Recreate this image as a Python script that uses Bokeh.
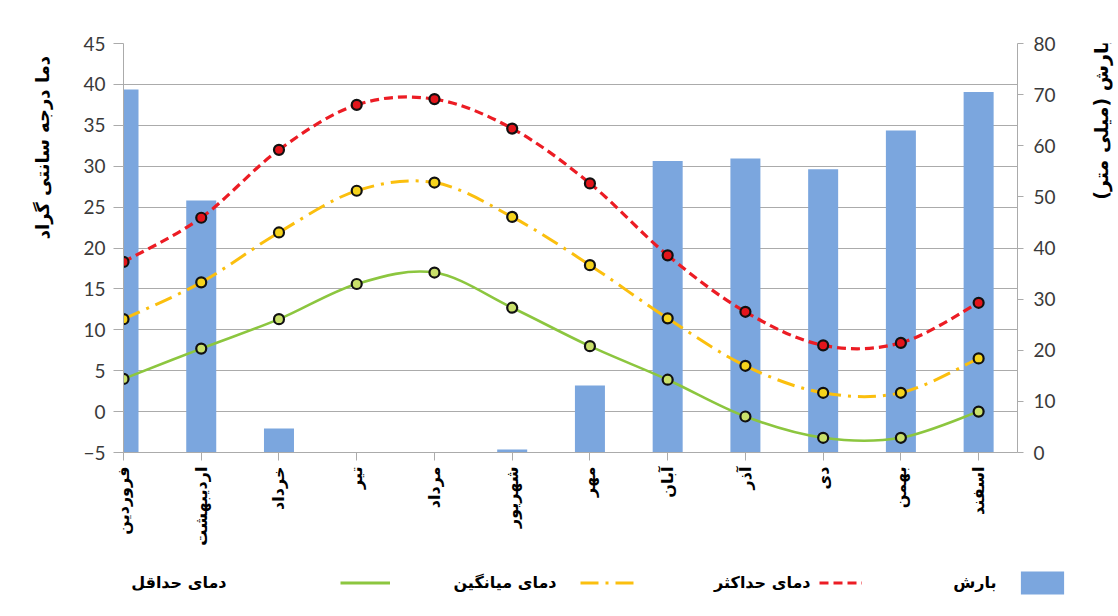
import math
import numpy as np
from bokeh.plotting import figure
from bokeh.layouts import column, row
from bokeh.models import (Range1d, LinearAxis, FixedTicker, Legend, LegendItem, Label)
from bokeh.embed import file_html
from bokeh.resources import INLINE

# ---------------- data ----------------
months = ["فروردین", "اردیبهشت", "خرداد", "تیر", "مرداد", "شهریور",
          "مهر", "آبان", "آذر", "دی", "بهمن", "اسفند"]
precip = [71.0, 49.3, 4.7, 0.0, 0.0, 0.6, 13.1, 57.0, 57.5, 55.4, 63.0, 70.5]
t_max = [18.3, 23.7, 32.0, 37.5, 38.2, 34.6, 27.9, 19.1, 12.2, 8.1, 8.4, 13.3]
t_mean = [11.3, 15.8, 21.9, 27.0, 28.0, 23.8, 17.9, 11.4, 5.6, 2.3, 2.3, 6.5]
t_min = [4.0, 7.7, 11.3, 15.6, 17.0, 12.7, 8.0, 3.9, -0.6, -3.2, -3.2, 0.0]
temp_ticks = list(range(-5, 46, 5))
rain_ticks = list(range(0, 81, 10))

legend_min = "دمای حداقل"
legend_mean = "دمای میانگین"
legend_max = "دمای حداکثر"
legend_rain = "بارش"
left_title = "دما درجه سانتی گراد"
right_title = "بارش (میلی متر)\u200f"

x = np.arange(len(months), dtype=float)

FA_FONT = "DejaVu Sans"
NUM_FONT = "Lato"
GRID = "#ababab"
C_MIN, C_MEAN, C_MAX, C_RAIN = "#8cc63f", "#fbbf0e", "#ec1c24", "#7ba6de"
DASH_MEAN, DASH_MAX = "18 7 3 7", "9 5"

TOP, FRAME_H, BOTTOM = 43, 409, 105
MAIN_H = TOP + FRAME_H + BOTTOM

p = figure(frame_width=894, frame_height=FRAME_H, output_backend="svg",
           toolbar_location=None,
           x_range=Range1d(0, 11.5), y_range=Range1d(-5, 45),
           min_border_left=63, min_border_right=58, min_border_top=TOP,
           min_border_bottom=BOTTOM)
p.outline_line_color = None
p.background_fill_color = "white"
p.border_fill_color = "white"

p.extra_y_ranges = {"rain": Range1d(0, 80)}

# bars
bars = p.vbar(x=x, top=precip, bottom=0, width=0.386, y_range_name="rain",
              fill_color=C_RAIN, line_color=None)


def smooth_parts(xs, ys):
    xs = np.asarray(xs, float)
    ys = np.asarray(ys, float)
    n = len(xs)
    qx = np.concatenate([[xs[0]], xs, [xs[-1]]])
    qy = np.concatenate([[ys[0]], ys, [ys[-1]]])
    cx0 = qx[1:n] + (qx[2:n + 1] - qx[0:n - 1]) / 6.0
    cy0 = qy[1:n] + (qy[2:n + 1] - qy[0:n - 1]) / 6.0
    cx1 = qx[2:n + 1] - (qx[3:n + 2] - qx[1:n]) / 6.0
    cy1 = qy[2:n + 1] - (qy[3:n + 2] - qy[1:n]) / 6.0
    return dict(x0=xs[:-1], y0=ys[:-1], x1=xs[1:], y1=ys[1:],
                cx0=cx0, cy0=cy0, cx1=cx1, cy1=cy1)


p.bezier(**smooth_parts(x, t_min), line_color=C_MIN, line_width=2.6)
p.bezier(**smooth_parts(x, t_mean), line_color=C_MEAN, line_width=3, line_dash=DASH_MEAN)
p.bezier(**smooth_parts(x, t_max), line_color=C_MAX, line_width=3.2, line_dash=DASH_MAX)

p.scatter(x, t_min, size=10, fill_color="#c9e06a", line_color="#111111", line_width=2.2)
p.scatter(x, t_mean, size=10, fill_color="#f5d31c", line_color="#111111", line_width=2.2)
p.scatter(x, t_max, size=10, fill_color="#e3151b", line_color="#111111", line_width=2.2)

# grid
p.xgrid.visible = False
p.ygrid.ticker = FixedTicker(ticks=temp_ticks)
p.ygrid.grid_line_color = GRID
p.ygrid.grid_line_width = 1.2

# left axis
la = p.yaxis[0]
la.ticker = FixedTicker(ticks=temp_ticks)
la.axis_line_color = GRID
la.major_tick_line_color = GRID
la.major_tick_out = 10
la.major_tick_in = 0
la.minor_tick_line_color = None
la.major_label_text_font = NUM_FONT
la.major_label_text_font_size = "19px"
la.major_label_text_color = "#3a3a3a"
la.major_label_standoff = 8

# right axis
ra = LinearAxis(y_range_name="rain", ticker=FixedTicker(ticks=rain_ticks))
ra.axis_line_color = GRID
ra.major_tick_line_color = GRID
ra.major_tick_out = 6
ra.major_tick_in = 0
ra.minor_tick_line_color = None
ra.major_label_text_font = NUM_FONT
ra.major_label_text_font_size = "19px"
ra.major_label_text_color = "#3a3a3a"
ra.major_label_standoff = 10
p.add_layout(ra, "right")

# x axis
xa = p.xaxis[0]
xa.ticker = FixedTicker(ticks=list(range(len(months))))
xa.major_label_overrides = {i: m for i, m in enumerate(months)}
xa.major_label_orientation = math.pi / 2
xa.axis_line_color = GRID
xa.major_tick_line_color = GRID
xa.major_tick_out = 8
xa.major_tick_in = 0
xa.minor_tick_line_color = None
xa.major_label_text_font = FA_FONT
xa.major_label_text_font_style = "bold"
xa.major_label_text_font_size = "16px"
xa.major_label_text_color = "#000000"
xa.major_label_standoff = 6


def side_strip(w, h):
    f = figure(width=w, height=h, output_backend="svg", toolbar_location=None,
               x_range=Range1d(0, w), y_range=Range1d(0, h),
               x_axis_type=None, y_axis_type=None,
               min_border=0, min_border_left=0, min_border_right=0,
               min_border_top=0, min_border_bottom=0)
    f.outline_line_color = None
    f.grid.visible = False
    f.background_fill_color = "white"
    f.border_fill_color = "white"
    return f


# left title strip
lf = side_strip(60, MAIN_H)
lf.add_layout(Label(x=42, y=MAIN_H - 17, text=left_title, angle=math.pi / 2,
                    text_align="right", text_baseline="middle",
                    text_font=FA_FONT, text_font_style="bold",
                    text_font_size="18px", text_color="#000000"))

# right title strip
rf = side_strip(40, MAIN_H)
rf.add_layout(Label(x=25, y=MAIN_H + 5, text=right_title, angle=math.pi / 2,
                    text_align="right", text_baseline="middle",
                    text_font=FA_FONT, text_font_style="bold",
                    text_font_size="19px", text_color="#000000"))

# legend strip (RTL: text left of key)
LH = 51
lg = side_strip(1115, LH)
k_min = lg.line(x=x, y=t_min, line_color=C_MIN, line_width=3, visible=False)
k_mean = lg.line(x=x, y=t_mean, line_color=C_MEAN, line_width=3, line_dash=DASH_MEAN,
                 visible=False)
k_max = lg.line(x=x, y=t_max, line_color=C_MAX, line_width=3.2, line_dash=DASH_MAX,
                visible=False)
k_rain = lg.vbar(x=x, top=precip, width=0.386, fill_color=C_RAIN, line_color=None,
                 visible=False)

keys = [(k_min, 340, 50), (k_mean, 580, 60), (k_max, 819, 43), (k_rain, 1015, 54)]
for rend, kx, kw in keys:
    leg = Legend(items=[LegendItem(label=" ", renderers=[rend])], location=(kx, 11),
                 orientation="horizontal")
    leg.glyph_width = kw
    leg.glyph_height = 29
    leg.padding = 0
    leg.margin = 0
    leg.label_standoff = 0
    leg.label_width = 1
    leg.label_height = 29
    leg.label_text_font_size = "2px"
    leg.border_line_alpha = 0
    leg.background_fill_alpha = 0
    lg.add_layout(leg)

texts = [(legend_min, 226), (legend_mean, 556), (legend_max, 810), (legend_rain, 996)]
for t, tx in texts:
    lg.add_layout(Label(x=tx, y=26, text=t, text_align="right", text_baseline="middle",
                        text_font=FA_FONT, text_font_style="bold",
                        text_font_size="16px", text_color="#000000"))

layout = column(row(lf, p, rf), lg)

open("out.html", "w").write(file_html(layout, INLINE))
